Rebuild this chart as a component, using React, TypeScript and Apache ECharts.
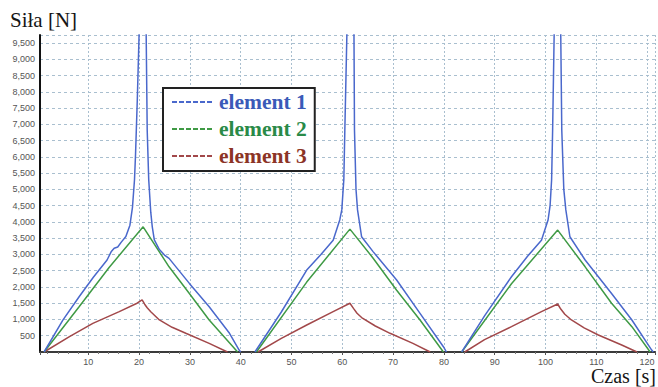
import React, { useEffect, useRef } from "react";
import * as echarts from "echarts";

// [time s, force N]; null breaks between cycles
const element1: (number[] | null)[] = [
  [1.3, 0], [5, 980], [8.2, 1700], [11, 2300], [13.7, 2830], [14.5, 3080], [15.1, 3190], [15.8, 3230],
  [16.5, 3380], [17.4, 3550], [18.2, 3900], [18.7, 4450], [19.1, 5300], [19.3, 6060], [19.65, 7750],
  [20.0, 9750], [20.1, 11000], [21.3, 11000], [21.4, 9750], [21.6, 6830], [21.9, 5300], [22.3, 4300],
  [22.6, 3850], [23.0, 3450], [24.0, 3150], [25.0, 2980], [25.9, 2880], [29.9, 2110], [33.8, 1390],
  [37.8, 575], [39.7, 60], [40, 0],
  null,
  [42.8, 0], [48, 1230], [53, 2520], [55.8, 3000], [58.2, 3440], [59.5, 4060], [59.9, 4370], [60.3, 5300],
  [60.5, 6830], [60.9, 9750], [61.0, 11000], [62.2, 11000], [62.3, 9750], [62.4, 6830], [62.7, 5000],
  [63.0, 4370], [63.8, 3545], [66.1, 3080], [70.7, 2215], [75.3, 1190], [79.9, 163], [80.5, 0],
  null,
  [83.5, 0], [88, 1110], [93.3, 2315], [96.5, 2950], [99.2, 3440], [100.5, 4060], [100.9, 4500],
  [101.2, 5300], [101.4, 6830], [101.7, 9750], [101.8, 11000], [102.9, 11000], [103.0, 9750],
  [103.2, 6830], [103.6, 5000], [104.0, 4370], [104.8, 3545], [107.8, 2830], [113, 1800], [117, 985],
  [120.9, 60], [121.2, 0],
];

const element2: (number[] | null)[] = [
  [1.3, 0], [8.2, 1390], [14.1, 2600], [20.8, 3850], [25.9, 2620], [29.9, 1800], [33.8, 985], [39.4, 0],
  null,
  [43.1, 0], [53, 2150], [61.5, 3780], [66, 2900], [70.7, 1900], [75.3, 985], [79.9, 0],
  null,
  [83.5, 0], [93.3, 2100], [102.4, 3750], [107.8, 2620], [113, 1500], [117, 780], [120.6, 0],
];

const element3: (number[] | null)[] = [
  [1.3, 0], [6.3, 470], [10.9, 880], [16.1, 1240], [19.6, 1500], [20.6, 1600], [21.1, 1470], [21.6, 1360],
  [22.3, 1240], [24.0, 985], [26.5, 760], [29.2, 575], [33.8, 267], [37.4, 0],
  null,
  [43.4, 0], [48, 420], [53, 830], [58.2, 1240], [61.5, 1500], [62.2, 1340], [62.9, 1190], [63.8, 1060],
  [66.5, 800], [69.4, 575], [73.9, 267], [77.3, 0],
  null,
  [84.1, 0], [88, 380], [93.3, 780], [99.2, 1240], [102.4, 1476], [103.0, 1320], [103.8, 1160], [105.1, 985],
  [107.6, 740], [110.4, 523], [115, 215], [118, 0],
];

const seriesNames = ["element 1", "element 2", "element 3"];
const lineColors = ["#4a68cc", "#3f9a45", "#a2484a"];
const textColors = ["#3a5ab8", "#2a8a48", "#8c3426"];

export default function App() {
  const ref = useRef<HTMLDivElement>(null);
  useEffect(() => {
    if (!ref.current) return;
    const chart = echarts.init(ref.current, undefined, { renderer: "svg" });
    const datas = [element1, element2, element3];
    chart.setOption({
      animation: false,
      backgroundColor: "#ffffff",
      title: [
        {
          text: "Siła [N]",
          left: 10,
          top: 9,
          padding: 0,
          textStyle: { fontFamily: "Liberation Serif", fontSize: 21, fontWeight: "normal", color: "#151515" },
        },
        {
          text: "Czas [s]",
          right: 2,
          top: 366,
          padding: 0,
          textStyle: {
            fontFamily: "Liberation Serif",
            fontSize: 20,
            lineHeight: 20,
            fontWeight: "normal",
            color: "#151515",
          },
        },
      ],
      legend: {
        left: 163,
        top: 88,
        orient: "vertical",
        padding: [3, 8, 4, 8],
        itemGap: 5,
        itemWidth: 42,
        itemHeight: 12,
        borderColor: "#222",
        borderWidth: 2,
        backgroundColor: "#ffffff",
        itemStyle: { opacity: 0 },
        textStyle: { fontFamily: "Liberation Serif", fontSize: 21.5, fontWeight: "bold", lineHeight: 21 },
        data: seriesNames.map((n, i) => ({
          name: n,
          itemStyle: { opacity: 0 },
          lineStyle: { type: [5, 2], width: 2, color: lineColors[i] },
          textStyle: { color: textColors[i] },
        })),
      },
      grid: { left: 40, right: 3, top: 35, bottom: 35, containLabel: false },
      xAxis: {
        type: "value",
        min: 0.5,
        max: 121.55,
        splitNumber: 12,
        axisLine: { show: true, onZero: false, lineStyle: { color: "#3a3a3a", width: 2 } },
        axisTick: { show: true, length: 3, lineStyle: { color: "#555" } },
        minorTick: { show: true, splitNumber: 5, length: 2, lineStyle: { color: "#777" } },
        axisLabel: {
          showMinLabel: false,
          showMaxLabel: false,
          fontFamily: "Liberation Sans",
          fontSize: 9,
          color: "#555",
          margin: 5,
        },
        splitLine: { show: true, lineStyle: { color: "#a9bfcf", type: [2, 2], width: 1 } },
      },
      yAxis: {
        type: "value",
        min: 0,
        max: 9750,
        interval: 500,
        axisLine: { show: true, onZero: false, lineStyle: { color: "#111", width: 2 } },
        axisTick: { show: false },
        axisLabel: {
          showMinLabel: false,
          showMaxLabel: false,
          fontFamily: "Liberation Sans",
          fontSize: 9,
          color: "#555",
          margin: 5,
          formatter: (v: number) => v.toLocaleString("en-US"),
        },
        splitLine: { show: true, lineStyle: { color: "#a9bfcf", type: [3, 3], width: 1 } },
      },
      series: datas.map((d, i) => ({
        name: seriesNames[i],
        type: "line",
        data: d.map((p) => (p === null ? [null, null] : p)),
        symbol: "none",
        connectNulls: false,
        clip: true,
        z: 3 - i + 2,
        lineStyle: { color: lineColors[i], width: 1.5 },
        itemStyle: { color: lineColors[i] },
      })),
    });
    return () => chart.dispose();
  }, []);
  return <div ref={ref} style={{ position: "fixed", left: 0, top: 0, width: 658, height: 387 }} />;
}
